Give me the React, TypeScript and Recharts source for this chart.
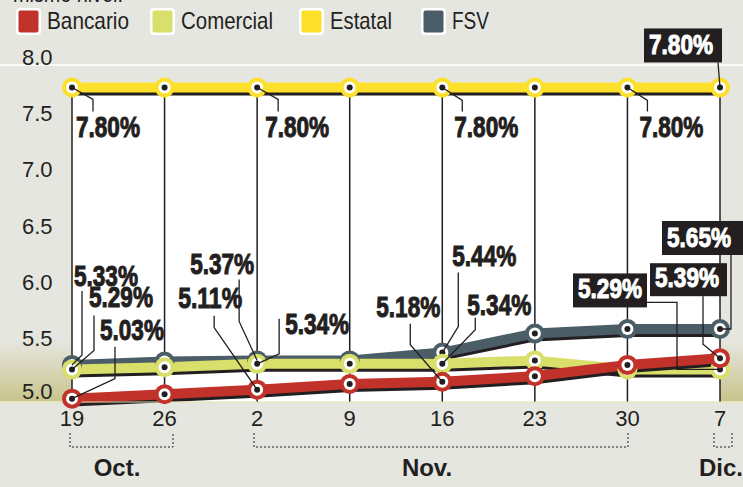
import {
  ComposedChart,
  Area,
  Line,
  XAxis,
  YAxis,
  CartesianGrid,
  ReferenceLine,
  LabelList,
} from "recharts";

const fechas = ["19", "26", "2", "9", "16", "23", "30", "7"];
const bancario = [5.03, 5.07, 5.11, 5.16, 5.18, 5.23, 5.33, 5.39];
const comercial = [5.29, 5.31, 5.34, 5.34, 5.34, 5.37, 5.29, 5.29];
const estatal = [7.8, 7.8, 7.8, 7.8, 7.8, 7.8, 7.8, 7.8];
const fsv = [5.33, 5.36, 5.37, 5.37, 5.44, 5.61, 5.65, 5.65];
const yTicks = [5.0, 5.5, 6.0, 6.5, 7.0, 7.5, 8.0];
const meses = ["Oct.", "Nov.", "Dic."];

const INK = "#231f20";
const BG = "#e6e6e1";
const FONT = "'Liberation Sans', Arial, sans-serif";

const series = [
  { key: "bancario", name: "Bancario", color: "#c1322b" },
  { key: "comercial", name: "Comercial", color: "#d8df6b" },
  { key: "estatal", name: "Estatal", color: "#fde02b" },
  { key: "fsv", name: "FSV", color: "#4b5d67" },
];

const data = fechas.map((fecha, i) => ({
  fecha,
  bancario: bancario[i],
  comercial: comercial[i],
  estatal: estatal[i],
  fsv: fsv[i],
}));

// callout layout, offsets relative to the point
type Callout = { path: number[][]; tx: number; ty: number; box?: number[] };
const callouts: Record<string, Record<number, Callout>> = {
  estatal: {
    0: { path: [[21, 12], [21, 24]], tx: 4, ty: 50 },
    2: { path: [[21, 12], [21, 24]], tx: 8, ty: 50 },
    4: { path: [[20, 13], [20, 24]], tx: 12, ty: 50 },
    6: { path: [[20, 13], [20, 24]], tx: 12, ty: 50 },
    7: { path: [[-2, -25]], tx: -71, ty: -33, box: [-76, -59, 78, 34] },
  },
  bancario: {
    0: { path: [[43, -20], [43, -52]], tx: 28, ty: -59 },
    2: { path: [[-43, -62], [-43, -74]], tx: -79, ty: -82 },
    4: { path: [[-32, -37], [-32, -58]], tx: -66, ty: -65 },
    7: { path: [[-17, -14], [-17, -62]], tx: -65, ty: -71, box: [-70, -95, 77, 33] },
  },
  comercial: {
    0: { path: [[22, -19], [22, -54]], tx: 17, ty: -62 },
    2: { path: [[22, -10], [22, -45]], tx: 28, ty: -30 },
    4: { path: [[33, -34], [33, -46]], tx: 25, ty: -49 },
    7: { path: [[-43, 0], [-43, -67], [-73, -67]], tx: -142, ty: -71, box: [-147, -96, 74, 34] },
  },
  fsv: {
    0: { path: [[10, -10], [10, -74]], tx: 2, ty: -79 },
    2: { path: [[-18, -39], [-18, -81]], tx: -67, ty: -86 },
    4: { path: [[16, -26], [16, -80]], tx: 10, ty: -87 },
    7: { path: [[11, 0], [11, -74]], tx: -53, ty: -82, box: [-58, -108, 81, 34] },
  },
};

const renderCallout = (key: string) => (props: any) => {
  const { x, y, value, index } = props;
  const c = callouts[key][index];
  if (!c || x == null || y == null) return null;
  const pts = [[x, y], ...c.path.map(([dx, dy]) => [x + dx, y + dy])]
    .map((p) => p.join(","))
    .join(" ");
  const boxed = !!c.box;
  const color = boxed ? "#fff" : INK;
  return (
    <g key={`${key}-${index}`}>
      <polyline points={pts} fill="none" stroke={INK} strokeWidth={1.3} />
      {c.box && (
        <rect x={x + c.box[0]} y={y + c.box[1]} width={c.box[2]} height={c.box[3]} fill={INK} />
      )}
      <text
        x={x + c.tx}
        y={y + c.ty}
        fontFamily={FONT}
        fontWeight="bold"
        fontSize={boxed ? 27 : 29}
        textLength={64}
        lengthAdjust="spacingAndGlyphs"
        fill={color}
        stroke={color}
        strokeWidth={1}
      >
        {`${Number(value).toFixed(2)}%`}
      </text>
    </g>
  );
};

const makeDot = (color: string) => (props: any) => {
  const { cx, cy, index } = props;
  if (cx == null || cy == null) return <g key={index} />;
  return (
    <g key={index}>
      <circle cx={cx} cy={cy} r={10} fill={color} />
      <circle cx={cx} cy={cy} r={6} fill="#fff" />
      <circle cx={cx} cy={cy} r={3} fill={INK} />
    </g>
  );
};

// y tick text sits on the left band, baseline on the grid line
const yLabel = (t: number) => (props: any) => {
  const vb = props.viewBox || {};
  return (
    <text x={22} y={vb.y - (t === 5 ? 3 : 0)} fontFamily={FONT} fontSize={22} fill={INK}>
      {t.toFixed(1)}
    </text>
  );
};

export default function App() {
  const order = ["estatal", "fsv", "comercial", "bancario"];
  return (
    <div style={{ position: "relative", width: 743, height: 487, background: BG, overflow: "hidden" }}>
      <style>{`body{margin:0;background:${BG}} .sombra{transform:translateY(3px)}`}</style>
      {/* olive shading at the foot of the chart */}
      <svg width={743} height={487} style={{ position: "absolute", left: 0, top: 0 }}>
        <defs>
          <linearGradient id="olivo" x1="0" y1="0" x2="0" y2="1">
            <stop offset="0%" stopColor={BG} />
            <stop offset="100%" stopColor="#c8c38a" />
          </linearGradient>
        </defs>
        <rect x={0} y={340} width={743} height={63} fill="url(#olivo)" />
      </svg>
      <ComposedChart
        width={743}
        height={487}
        data={data}
        margin={{ top: 65, right: 0, bottom: 55, left: 0 }}
      >
        <CartesianGrid horizontal vertical={false} stroke="#fff" strokeWidth={1.5} />
        <XAxis
          dataKey="fecha"
          scale="point"
          padding={{ left: 72, right: 23 }}
          height={30}
          interval={0}
          tickLine={false}
          axisLine={{ stroke: "#dcd9a6" }}
          tick={{ fill: INK, fontSize: 22, fontFamily: FONT }}
        />
        <YAxis
          width={0}
          domain={[5, 8]}
          ticks={yTicks}
          interval={0}
          axisLine={false}
          tickLine={false}
          tick={false}
        />
        {yTicks.map((t) => (
          <ReferenceLine key={`y${t}`} y={t} stroke="none" label={yLabel(t)} />
        ))}
        <Area
          dataKey="estatal"
          baseValue="dataMin"
          fill="#fff"
          fillOpacity={1}
          stroke="none"
          dot={false}
          activeDot={false}
          legendType="none"
          isAnimationActive={false}
        />
        {fechas.map((f, i) => (
          <ReferenceLine
            key={f}
            segment={[
              { x: f, y: 5 },
              { x: f, y: estatal[i] },
            ]}
            stroke={INK}
            strokeWidth={1.5}
          />
        ))}
        {order.map((k) => {
          const s = series.find((d) => d.key === k)!;
          return [
            <Line
              key={`${k}-sombra`}
              dataKey={k}
              className="sombra"
              stroke={INK}
              strokeWidth={10}
              dot={false}
              activeDot={false}
              legendType="none"
              isAnimationActive={false}
            />,
            <Line
              key={k}
              dataKey={k}
              stroke={s.color}
              strokeWidth={10}
              dot={makeDot(s.color)}
              activeDot={false}
              isAnimationActive={false}
            >
              <LabelList dataKey={k} content={renderCallout(k)} />
            </Line>,
          ];
        })}
      </ComposedChart>
      <svg
        width={743}
        height={487}
        style={{ position: "absolute", left: 0, top: 0, pointerEvents: "none" }}
      >
        <text
          x={13}
          y={2}
          fontFamily={FONT}
          fontSize={24}
          fill={INK}
          textLength={110}
          lengthAdjust="spacingAndGlyphs"
        >
          mismo nivel.
        </text>
        {series.map((s, i) => {
          const sx = [16, 150, 299, 421][i];
          const w = [82, 92, 62, 37][i];
          return (
            <g key={s.key}>
              <rect x={sx} y={8} width={25} height={27} rx={4} fill="#fff" />
              <rect x={sx + 2.5} y={10.5} width={20} height={22} rx={2} fill={s.color} />
              <text
                x={sx + 31}
                y={29}
                fontFamily={FONT}
                fontSize={24}
                fill={INK}
                textLength={w}
                lengthAdjust="spacingAndGlyphs"
              >
                {s.name}
              </text>
            </g>
          );
        })}
        <g fill="none" stroke={INK} strokeWidth={1} strokeDasharray="2 2">
          <polyline points="70,433 70,447 173,447 173,433" />
          <polyline points="254,433 254,447 628,447 628,433" />
          <polyline points="714,433 714,447 732,447 732,433" />
        </g>
        <g fontFamily={FONT} fontWeight="bold" fontSize={24} fill={INK}>
          <text x={117} y={476} textAnchor="middle">{meses[0]}</text>
          <text x={427} y={476} textAnchor="middle">{meses[1]}</text>
          <text x={699} y={476}>{meses[2]}</text>
        </g>
      </svg>
    </div>
  );
}
